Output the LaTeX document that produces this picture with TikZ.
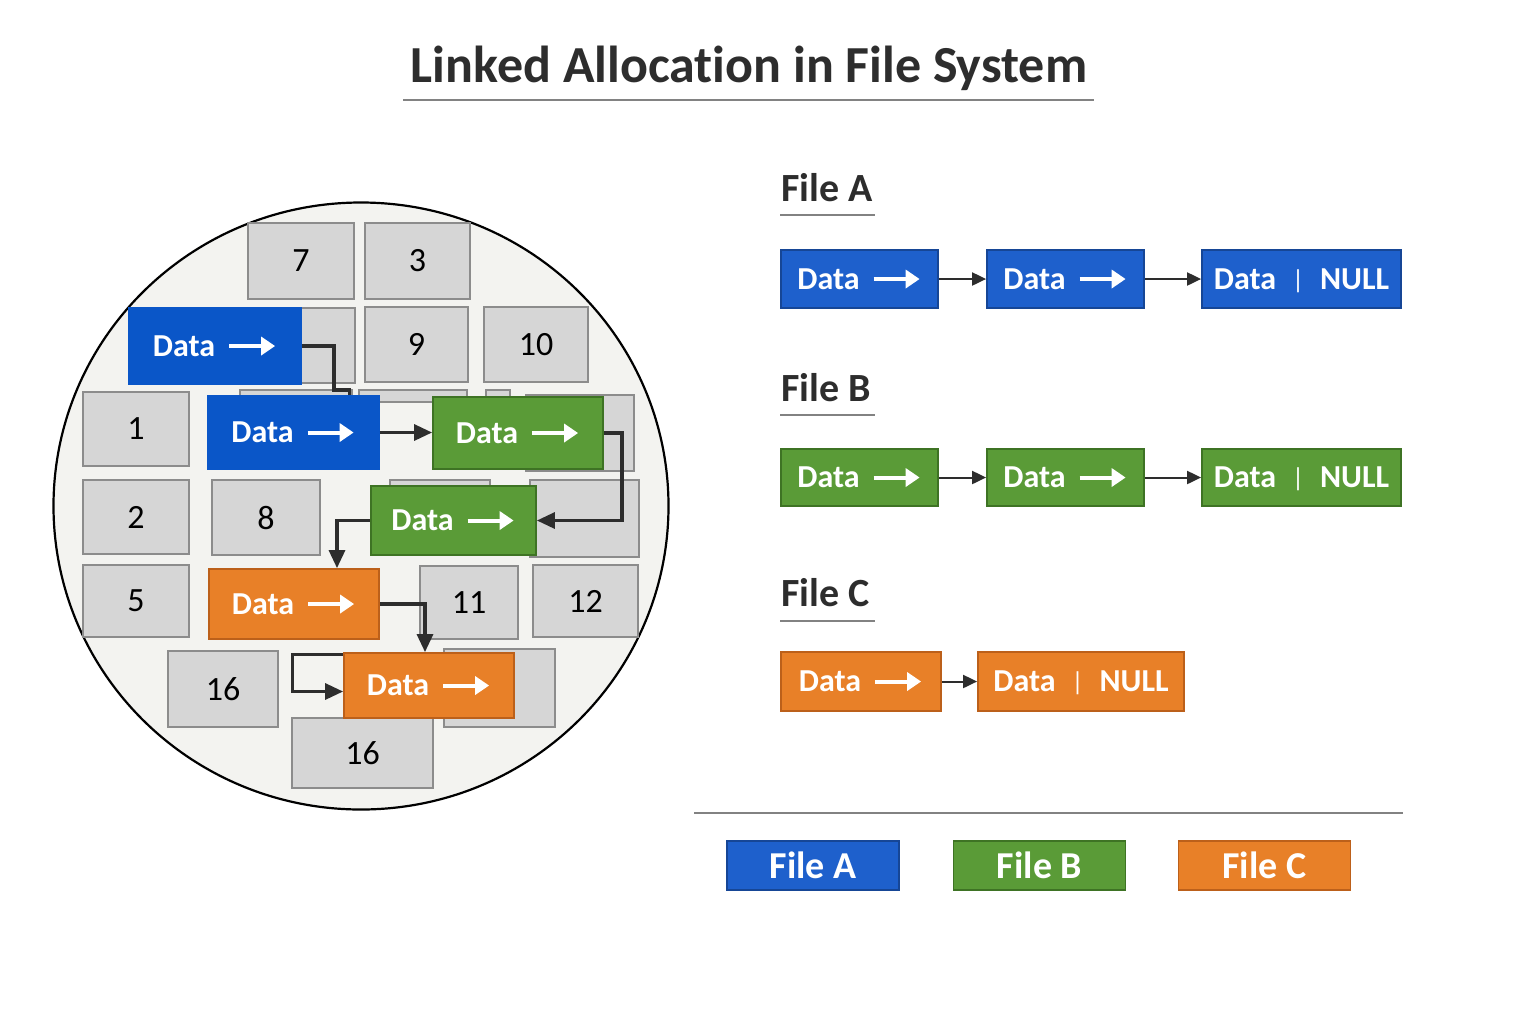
\documentclass[tikz,border=0pt]{standalone}
\usepackage{fontspec}
\setmainfont{Carlito}[Ligatures=NoCommon]
\usepackage{xcolor}
\usetikzlibrary{arrows.meta, positioning, calc}
\definecolor{fileA}{RGB}{30, 96, 204}
\definecolor{fileAedge}{RGB}{22, 70, 150}
\definecolor{diskblue}{RGB}{10, 86, 200}
\definecolor{fileB}{RGB}{90, 155, 55}
\definecolor{fileBedge}{RGB}{62, 115, 36}
\definecolor{fileC}{RGB}{232, 128, 40}
\definecolor{fileCedge}{RGB}{188, 96, 26}
\definecolor{blockfill}{RGB}{214, 214, 214}
\definecolor{blockedge}{RGB}{140, 140, 140}
\definecolor{diskfill}{RGB}{243, 243, 240}
\definecolor{inkgray}{RGB}{45, 45, 45}
\definecolor{rulegray}{RGB}{130, 130, 130}

\newcommand{\ptr}{\tikz[baseline=-0.32em]\draw[white, line width=2pt, -{Triangle[length=7pt,width=9pt]}] (0pt,0pt) -- (23pt,0pt);}
\newcommand{\nullsep}{\hspace{8pt}\raisebox{0.5pt}[0pt][0pt]{\mdseries\fontsize{13}{13}\selectfont|}\hspace{8pt}}

\tikzset{
  boxsize/.style 2 args={minimum width=#1*0.5pt, minimum height=#2*0.5pt},
  blockbox/.style={draw=blockedge, fill=blockfill, line width=0.9pt, inner sep=0pt,
    text=black, font=\fontsize{17}{17}\selectfont},
  databox/.style={line width=0.9pt, inner sep=0pt, text=white,
    font=\bfseries\fontsize{16}{16}\selectfont},
  fileAbox/.style={databox, fill=fileA, draw=fileAedge},
  diskAbox/.style={databox, fill=diskblue, draw=diskblue},
  fileBbox/.style={databox, fill=fileB, draw=fileBedge},
  fileCbox/.style={databox, fill=fileC, draw=fileCedge},
  filelabel/.style={anchor=base west, inner sep=0pt, text=inkgray,
    font=\bfseries\fontsize{20}{20}\selectfont},
  legendbox/.style={databox, boxsize={172}{49}, font=\bfseries\fontsize{19}{19}\selectfont},
  link/.style={draw=inkgray, line width=1.6pt},
  diskarrow/.style={link, -{Triangle[length=9pt,width=8pt]}},
  rowarrow/.style={draw=inkgray, line width=1pt, -{Triangle[length=7pt,width=6.5pt]}},
}

\begin{document}
\begin{tikzpicture}[x=0.5pt, y=-0.5pt]
    \useasboundingbox[fill=white] (0,0) rectangle (1536,1024);

    % title
    \node[anchor=base, inner sep=0pt, text=inkgray, font=\bfseries\fontsize{26}{26}\selectfont]
        (title) at (749,82) {Linked Allocation in File System};
    \draw[rulegray, line width=0.8pt] (403,100) -- (1094,100);

    % disk
    \draw[fill=diskfill, line width=1.1pt] (361,506) ellipse [x radius=153.75pt, y radius=151.75pt];

    % free and used blocks
    \node[blockbox, boxsize={106}{76}] (b7) at (301,261) {7};
    \node[blockbox, boxsize={105}{76}] (b3) at (417.5,261) {3};
    \node[blockbox, boxsize={105}{75}] (bA) at (302.5,345.5) {};
    \node[blockbox, boxsize={103}{75}] (b9) at (416.5,344.5) {9};
    \node[blockbox, boxsize={104}{75}] (b10) at (536,344.5) {10};
    \node[blockbox, boxsize={106}{74}] (b1) at (136,429) {1};
    \node[blockbox, boxsize={112}{12}] (bB) at (296,396) {};
    \node[blockbox, boxsize={108}{12}] (bC) at (413,396) {};
    \node[blockbox, boxsize={24}{12}] (bH) at (498,396) {};
    \node[blockbox, boxsize={108}{76}] (bD) at (580,433) {};
    \node[blockbox, boxsize={106}{74}] (b2) at (136,517) {2};
    \node[blockbox, boxsize={108}{75}] (b8) at (266,517.5) {8};
    \node[blockbox, boxsize={100}{12}] (bE) at (440,486) {};
    \node[blockbox, boxsize={109}{77}] (bF) at (584.5,518.5) {};
    \node[blockbox, boxsize={106}{72}] (b5) at (136,601) {5};
    \node[blockbox, boxsize={98}{73}] (b11) at (469,602.5) {11};
    \node[blockbox, boxsize={105}{72}] (b12) at (585.5,601) {12};
    \node[blockbox, boxsize={110}{76}] (b16) at (223,689) {16};
    \node[blockbox, boxsize={111}{78}] (bG) at (499.5,688) {};
    \node[blockbox, boxsize={141}{70}] (b16b) at (362.5,753) {16};

    % file blocks on the disk
    \node[diskAbox, boxsize={172}{76}] (a1) at (215,346) {Data\hspace{6pt}\ptr};
    \node[diskAbox, boxsize={171}{73}] (a2) at (293.5,432.5) {Data\hspace{6pt}\ptr};
    \node[fileBbox, boxsize={170}{72}] (g1) at (518,433) {Data\hspace{6pt}\ptr};
    \node[fileBbox, boxsize={165}{69}] (g2) at (453.5,520.5) {Data\hspace{6pt}\ptr};
    \node[fileCbox, boxsize={170}{70}] (c1) at (294,604) {Data\hspace{6pt}\ptr};
    \node[fileCbox, boxsize={170}{65}] (c2) at (429,685.5) {Data\hspace{6pt}\ptr};

    % block pointers
    \draw[link] (a1.east) -- ++(32,0) -- ++(0,44) -| ([xshift=28pt]a2.north);
    \draw[diskarrow] (a2.east) -- (a2.east -| g1.west);
    \draw[diskarrow] (g1.east) -- ++(18,0) |- (g2.east);
    \draw[diskarrow] (g2.west) -| ([xshift=21.5pt]c1.north);
    \draw[diskarrow] (c1.east) -| ([xshift=-2pt]c2.north);
    \draw[diskarrow] ([yshift=-1pt]c2.north west) -- ++(-51,0) |- ([yshift=-3pt]c2.west);

    % file A
    \node[filelabel] (labA) at (781,201) {File A};
    \draw[rulegray, line width=0.8pt] (780,215) -- (875,215);
    \node[fileAbox, boxsize={157}{58}] (fa1) at (859.5,279) {Data\hspace{6pt}\ptr};
    \node[fileAbox, boxsize={157}{58}] (fa2) at (1065.5,279) {Data\hspace{6pt}\ptr};
    \node[fileAbox, boxsize={199}{58}] (fa3) at (1301.5,279) {Data\nullsep NULL};
    \draw[rowarrow] (fa1) -- (fa2);
    \draw[rowarrow] (fa2) -- (fa3);

    % file B
    \node[filelabel] (labB) at (781,401) {File B};
    \draw[rulegray, line width=0.8pt] (780,415) -- (875,415);
    \node[fileBbox, boxsize={157}{57}] (fb1) at (859.5,477.5) {Data\hspace{6pt}\ptr};
    \node[fileBbox, boxsize={157}{57}] (fb2) at (1065.5,477.5) {Data\hspace{6pt}\ptr};
    \node[fileBbox, boxsize={199}{57}] (fb3) at (1301.5,477.5) {Data\nullsep NULL};
    \draw[rowarrow] (fb1) -- (fb2);
    \draw[rowarrow] (fb2) -- (fb3);

    % file C
    \node[filelabel] (labC) at (781,606) {File C};
    \draw[rulegray, line width=0.8pt] (780,621) -- (875,621);
    \node[fileCbox, boxsize={160}{59}] (fc1) at (861,681.5) {Data\hspace{6pt}\ptr};
    \node[fileCbox, boxsize={206}{59}] (fc2) at (1081,681.5) {Data\nullsep NULL};
    \draw[rowarrow] (fc1) -- (fc2);

    % legend
    \draw[rulegray, line width=0.8pt] (694,813) -- (1403,813);
    \node[legendbox, fill=fileA, draw=fileAedge] (keyA) at (813,865.5) {File A};
    \node[legendbox, fill=fileB, draw=fileBedge] (keyB) at (1039.5,865.5) {File B};
    \node[legendbox, fill=fileC, draw=fileCedge] (keyC) at (1264.5,865.5) {File C};
\end{tikzpicture}
\end{document}
